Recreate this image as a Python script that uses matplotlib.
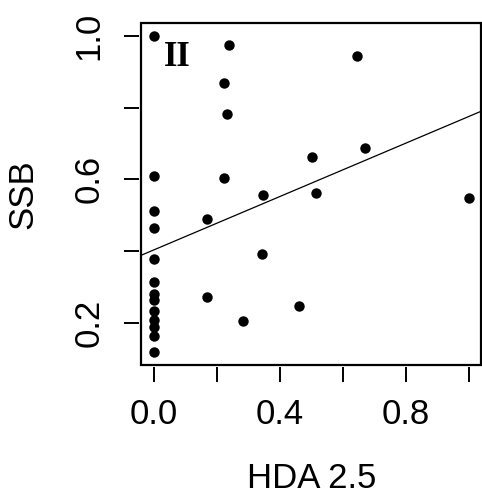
import matplotlib
matplotlib.use("Agg")
import matplotlib.pyplot as plt
from matplotlib.patches import Rectangle
import numpy as np

# HDA 2.5 vs SSB
hda = [0.0, 0.0, 0.0, 0.0, 0.0, 0.0, 0.0, 0.0, 0.0, 0.0, 0.0, 0.0, 0.0,
       0.238, 0.224, 0.233, 0.224, 0.348, 0.501, 0.515, 0.646, 0.670,
       1.0, 0.462, 0.17, 0.343, 0.17, 0.283]
ssb = [1.0, 0.609, 0.512, 0.466, 0.378, 0.315, 0.282, 0.264, 0.233, 0.208,
       0.188, 0.165, 0.12,
       0.974, 0.868, 0.782, 0.605, 0.557, 0.662, 0.563, 0.942, 0.688,
       0.549, 0.249, 0.489, 0.393, 0.272, 0.205]

x_ticks = [0.0, 0.2, 0.4, 0.6, 0.8, 1.0]
x_labels = ["0.0", "", "0.4", "", "0.8", ""]
y_ticks = [0.2, 0.4, 0.6, 0.8, 1.0]
y_labels = ["0.2", "", "0.6", "", "1.0"]

plt.rcParams["font.family"] = "Liberation Sans"

fig = plt.figure(figsize=(4.82, 4.98), dpi=100)
ax = fig.add_axes([0.2925, 0.268, 0.7064, 0.6858])

# ticks sit just outside the box, box drawn as a patch
for side in ["bottom", "left"]:
    ax.spines[side].set_position(("outward", 1.5))
for s in ax.spines.values():
    s.set_visible(False)
ax.add_patch(Rectangle((0, 0), 1, 1, transform=ax.transAxes, fill=False,
                       lw=1.6, ec="black", clip_on=False, zorder=4))

x = np.array(hda)
y = np.array(ssb)

ax.plot(x, y, "o", color="black", ms=7.5, mew=0, zorder=3)

# least squares line, like abline(lm(y ~ x))
slope, intercept = np.polyfit(x, y, 1)
ax.axline((0, intercept), slope=slope, color="black", lw=0.9, zorder=2)

# R style limits: 4% padding
xr = x.max() - x.min()
yr = y.max() - y.min()
ax.set_xlim(x.min() - 0.04 * xr, x.max() + 0.04 * xr)
ax.set_ylim(y.min() - 0.04 * yr, y.max() + 0.04 * yr)

ax.set_xticks(x_ticks)
ax.set_xticklabels(x_labels)
ax.set_yticks(y_ticks)
ax.set_yticklabels(y_labels)

ax.tick_params(axis="both", direction="out", length=10.8, width=1.4,
               labelsize=25, color="black")
ax.tick_params(axis="x", pad=12)
ax.tick_params(axis="y", pad=13, labelrotation=90)
for lab in ax.get_yticklabels():
    lab.set_va("center")

ax.set_xlabel("HDA 2.5", fontsize=25)
ax.set_ylabel("SSB", fontsize=25)
ax.xaxis.set_label_coords(0.5, -0.2855)
ax.yaxis.set_label_coords(-0.297, 0.5)

ax.text(0.068, 0.875, "II", transform=ax.transAxes, fontsize=25,
        fontweight="bold", family="Liberation Serif", ha="left", va="baseline")

plt.savefig("out.png", dpi=100)
